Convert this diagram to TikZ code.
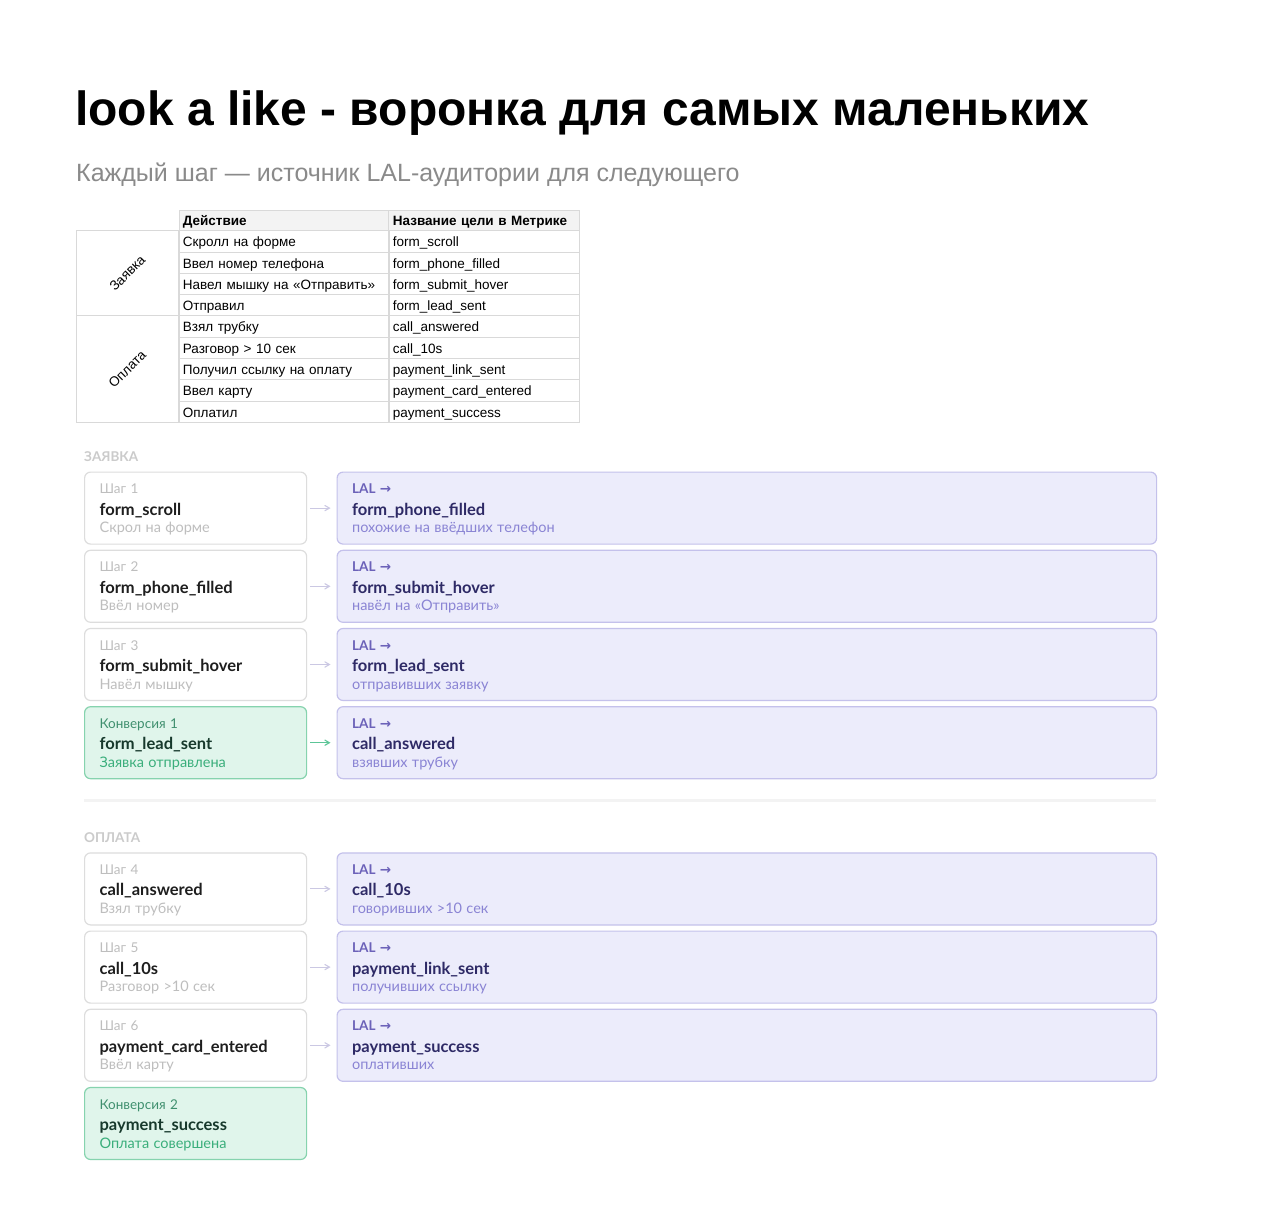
\documentclass[tikz,border=0pt]{standalone}
\usepackage{fontspec}
\setmainfont{Liberation Sans}
\newfontfamily\cardfont{Lato}
\newfontfamily\glyphfont{DejaVu Sans}
\usepackage{xcolor}
\usepackage{tikz}
\usetikzlibrary{arrows,matrix,positioning}
\tikzset{>=angle 60}

\definecolor{tblgrid}{HTML}{D9D9D9}
\definecolor{tblhead}{HTML}{F3F3F3}
\definecolor{subgray}{HTML}{8A8A8A}
\definecolor{secgray}{HTML}{CBCBCB}
\definecolor{stepline}{HTML}{DDDDDD}
\definecolor{mutedtxt}{HTML}{BEBEBE}
\definecolor{darktxt}{HTML}{1E1E1E}
\definecolor{convfill}{HTML}{E0F5EB}
\definecolor{convline}{HTML}{86D3AE}
\definecolor{convtop}{HTML}{3F8F6E}
\definecolor{convname}{HTML}{17392C}
\definecolor{convdesc}{HTML}{3AAE7B}
\definecolor{lalfill}{HTML}{ECECFB}
\definecolor{lalline}{HTML}{C4C1EB}
\definecolor{laltop}{HTML}{6C62B9}
\definecolor{lalname}{HTML}{2E2A66}
\definecolor{laldesc}{HTML}{8A84D4}
\definecolor{arrowgray}{HTML}{CBC8E3}
\definecolor{arrowgreen}{HTML}{5CC597}
\definecolor{sepgray}{HTML}{F3F3F3}

\newcommand{\cardlines}[3]{%
  {\fontsize{13.5}{15}\selectfont\color{topc}\rule{0pt}{14pt}#1}\\[4pt]%
  {\fontsize{16.5}{17.5}\selectfont\bfseries\color{midc}#2}\\%
  {\fontsize{14.5}{17.5}\selectfont\color{lowc}#3\rule[-4pt]{0pt}{4pt}}}

\tikzset{card/.style={rectangle,rounded corners=6pt,line width=1.2pt,
            minimum width=222pt,minimum height=72pt,text width=192pt,
            inner xsep=15pt,inner ysep=0pt,align=left,anchor=north west,
            font=\cardfont\fontsize{13}{17.5}\selectfont},
         stepbox/.style={card,draw=stepline,fill=white,
            execute at begin node={\colorlet{topc}{mutedtxt}\colorlet{midc}{darktxt}\colorlet{lowc}{mutedtxt}}},
         convbox/.style={card,draw=convline,fill=convfill,
            execute at begin node={\colorlet{topc}{convtop}\colorlet{midc}{convname}\colorlet{lowc}{convdesc}}},
         lalbox/.style={card,draw=lalline,fill=lalfill,minimum width=819.5pt,text width=789.5pt,
            execute at begin node={\colorlet{topc}{laltop}\colorlet{midc}{lalname}\colorlet{lowc}{laldesc}}},
         flow/.style={->,line width=1.1pt,draw=arrowgray,shorten <=3pt,shorten >=6pt},
         convflow/.style={flow,draw=arrowgreen},
         tblcell/.style={draw=tblgrid,line width=0.8pt,inner xsep=4pt,inner ysep=0pt,
            minimum height=21.3pt,text height=13pt,text depth=2pt,align=left,
            font=\fontsize{13.5}{16}\selectfont},
         tblheadcell/.style={fill=tblhead,minimum height=20pt,text height=12pt,
            font=\fontsize{13.5}{16}\selectfont\bfseries},
         groupcell/.style={draw=tblgrid,line width=0.8pt,minimum width=101.6pt,inner sep=0pt},
         seclabel/.style={anchor=base west,inner sep=0pt,text=secgray,
            font=\cardfont\fontsize{13.5}{15}\selectfont\bfseries},
            }

\begin{document}
\begin{tikzpicture}[x=1pt,y=-1pt]

    \useasboundingbox (0,0) rectangle (1280,1218);
    \fill[white] (0,0) rectangle (1280,1218);

    \node[anchor=base west,inner sep=0pt,font=\fontsize{48}{58}\selectfont\bfseries] (title) at (75,125)
        {look a like - воронка для самых маленьких};
    \node[anchor=base west,inner sep=0pt,text=subgray,font=\fontsize{25}{29}\selectfont] (subtitle) at (76,181)
        {Каждый шаг — источник LAL-аудитории для следующего};

    % table of goals
    \matrix (tbl) [matrix of nodes,anchor=north west,inner sep=0pt,
        column sep=-0.8pt,row sep=-0.8pt,nodes={tblcell},
        column 1/.style={nodes={text width=202pt}},
        column 2/.style={nodes={text width=182pt}},
        row 1/.style={nodes={tblheadcell}}] at (178.3,210) {
        Действие & Название цели в Метрике \\
        Скролл на форме & form\_scroll \\
        Ввел номер телефона & form\_phone\_filled \\
        Навел мышку на «Отправить» & form\_submit\_hover \\
        Отправил & form\_lead\_sent \\
        Взял трубку & call\_answered \\
        Разговор > 10 сек & call\_10s \\
        Получил ссылку на оплату & payment\_link\_sent \\
        Ввел карту & payment\_card\_entered \\
        Оплатил & payment\_success \\
    };
    \node[groupcell,minimum height=85.2pt,anchor=north east] (gzay) at (tbl-2-1.north west) {};
    \node[groupcell,minimum height=106.5pt,anchor=north east] (gopl) at (tbl-6-1.north west) {};
    \node[rotate=45,font=\fontsize{13.5}{16}\selectfont] (gzaytxt) at (gzay.center) {Заявка};
    \node[rotate=45,font=\fontsize{13.5}{16}\selectfont] (gopltxt) at (gopl.center) {Оплата};

    % first stage
    \node[seclabel] (hzay) at (84,461.7) {ЗАЯВКА};
    \node[stepbox] (s1) at (84,471.5) {\cardlines{Шаг 1}{form\_scroll}{Скрол на форме}};
    \node[stepbox] (s2) [below=5pt of s1] {\cardlines{Шаг 2}{form\_phone\_filled}{Ввёл номер}};
    \node[stepbox] (s3) [below=5pt of s2] {\cardlines{Шаг 3}{form\_submit\_hover}{Навёл мышку}};
    \node[convbox] (c1) [below=5pt of s3] {\cardlines{Конверсия 1}{form\_lead\_sent}{Заявка отправлена}};

    \node[lalbox] (l1) [right=29.3pt of s1] {\cardlines{\textbf{LAL {\glyphfont →}}}{form\_phone\_filled}{похожие на ввёдших телефон}};
    \node[lalbox] (l2) [right=29.3pt of s2] {\cardlines{\textbf{LAL {\glyphfont →}}}{form\_submit\_hover}{навёл на «Отправить»}};
    \node[lalbox] (l3) [right=29.3pt of s3] {\cardlines{\textbf{LAL {\glyphfont →}}}{form\_lead\_sent}{отправивших заявку}};
    \node[lalbox] (l4) [right=29.3pt of c1] {\cardlines{\textbf{LAL {\glyphfont →}}}{call\_answered}{взявших трубку}};

    \path
    (s1) edge[flow] (l1)
    (s2) edge[flow] (l2)
    (s3) edge[flow] (l3)
    (c1) edge[convflow] (l4);

    \draw[line width=3pt,sepgray] (84,800) -- (1156,800);

    % second stage
    \node[seclabel] (hopl) at (84,842.7) {ОПЛАТА};
    \node[stepbox] (s4) at (84,852.3) {\cardlines{Шаг 4}{call\_answered}{Взял трубку}};
    \node[stepbox] (s5) [below=5pt of s4] {\cardlines{Шаг 5}{call\_10s}{Разговор >10 сек}};
    \node[stepbox] (s6) [below=5pt of s5] {\cardlines{Шаг 6}{payment\_card\_entered}{Ввёл карту}};
    \node[convbox] (c2) [below=5pt of s6] {\cardlines{Конверсия 2}{payment\_success}{Оплата совершена}};

    \node[lalbox] (l5) [right=29.3pt of s4] {\cardlines{\textbf{LAL {\glyphfont →}}}{call\_10s}{говоривших >10 сек}};
    \node[lalbox] (l6) [right=29.3pt of s5] {\cardlines{\textbf{LAL {\glyphfont →}}}{payment\_link\_sent}{получивших ссылку}};
    \node[lalbox] (l7) [right=29.3pt of s6] {\cardlines{\textbf{LAL {\glyphfont →}}}{payment\_success}{оплативших}};

    \path
    (s4) edge[flow] (l5)
    (s5) edge[flow] (l6)
    (s6) edge[flow] (l7);

\end{tikzpicture}
\end{document}
